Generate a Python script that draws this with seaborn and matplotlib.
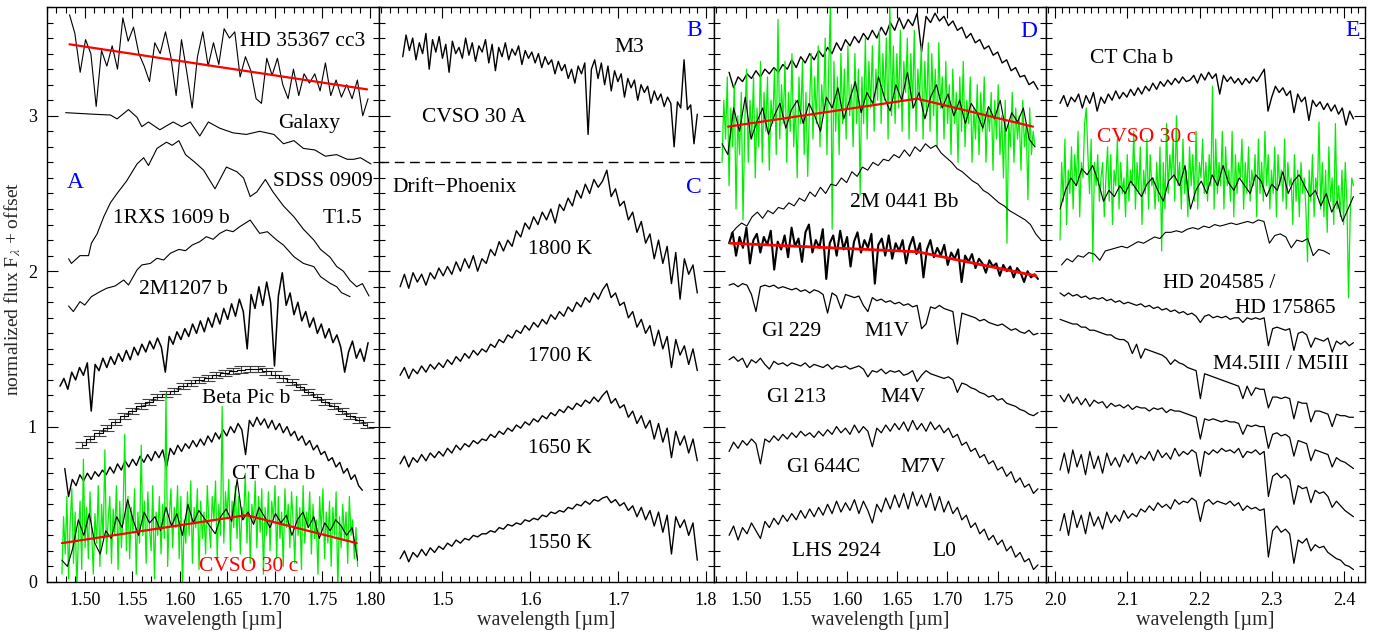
import numpy as np
import matplotlib
matplotlib.use("Agg")
import matplotlib.pyplot as plt
from matplotlib.ticker import MultipleLocator, FormatStrFormatter
import seaborn as sns

# ---------------- Panel A ----------------
hd35367_range = (1.484, 1.798)
hd35367_flux = [3.65, 3.53, 3.28, 3.49, 3.40, 3.06, 3.42, 3.32, 3.45, 3.30, 3.63, 3.48, 3.57, 3.40,
                3.32, 3.22, 3.47, 3.40, 3.54, 3.38, 3.13, 3.49, 3.28, 3.05, 3.38, 3.54, 3.32, 3.47,
                3.33, 3.56, 3.50, 3.54, 3.25, 3.38, 3.29, 3.11, 3.08, 3.37, 3.26, 3.37, 3.20, 3.11,
                3.30, 3.13, 3.27, 3.21, 3.27, 3.16, 3.34, 3.13, 3.23, 3.12, 3.20, 3.11, 3.23, 3.00, 3.11]
hd35367_fit_w = [1.484, 1.797]
hd35367_fit_f = [3.46, 3.17]

galaxy_w = [1.480, 1.509, 1.527, 1.534, 1.546, 1.555, 1.560, 1.567, 1.579, 1.593, 1.602, 1.611, 1.621,
            1.630, 1.642, 1.656, 1.670, 1.684, 1.699, 1.709, 1.720, 1.730, 1.742, 1.753, 1.765, 1.776,
            1.783, 1.790, 1.801]
galaxy_f = [3.02, 3.01, 3.005, 2.98, 3.04, 2.99, 2.93, 2.96, 2.91, 2.96, 2.93, 2.96, 2.87, 2.96, 2.92,
            2.89, 2.88, 2.90, 2.88, 2.82, 2.84, 2.79, 2.78, 2.74, 2.75, 2.72, 2.72, 2.73, 2.69]

sdss0909_w = [1.483, 1.486, 1.495, 1.504, 1.507, 1.513, 1.520, 1.527, 1.534, 1.544, 1.555, 1.562, 1.567,
              1.576, 1.586, 1.592, 1.599, 1.606, 1.616, 1.625, 1.637, 1.649, 1.660, 1.667, 1.674, 1.681,
              1.690, 1.698, 1.709, 1.720, 1.730, 1.741, 1.748, 1.758, 1.765, 1.772, 1.779, 1.786, 1.792, 1.799]
sdss0909_f = [2.08, 2.05, 2.10, 2.10, 2.18, 2.24, 2.35, 2.44, 2.50, 2.58, 2.69, 2.73, 2.68, 2.79, 2.83,
              2.81, 2.84, 2.75, 2.70, 2.65, 2.53, 2.67, 2.64, 2.60, 2.48, 2.51, 2.59, 2.51, 2.42, 2.35,
              2.27, 2.20, 2.14, 2.09, 2.03, 2.00, 1.94, 1.90, 1.92, 1.84]

rxs1609_w = [1.483, 1.488, 1.495, 1.500, 1.507, 1.516, 1.523, 1.532, 1.541, 1.546, 1.555, 1.560, 1.569,
             1.576, 1.583, 1.590, 1.599, 1.606, 1.613, 1.621, 1.628, 1.635, 1.642, 1.649, 1.656, 1.663,
             1.674, 1.679, 1.684, 1.692, 1.702, 1.709, 1.720, 1.730, 1.741, 1.748, 1.758, 1.765, 1.770, 1.779]
rxs1609_f = [1.776, 1.74, 1.804, 1.782, 1.836, 1.868, 1.89, 1.905, 1.943, 1.911, 2.008, 2.04, 2.05, 2.083,
             2.072, 2.115, 2.14, 2.132, 2.168, 2.19, 2.222, 2.205, 2.243, 2.265, 2.254, 2.286, 2.329, 2.286,
             2.243, 2.254, 2.20, 2.168, 2.093, 2.05, 2.029, 1.965, 1.922, 1.90, 1.862, 1.836]

m1207_range = (1.474, 1.798)
m1207_flux = [1.26, 1.31, 1.24, 1.35, 1.30, 1.38, 1.33, 1.41, 1.10, 1.40, 1.36, 1.44, 1.38, 1.45, 1.40,
              1.47, 1.42, 1.49, 1.43, 1.51, 1.46, 1.53, 1.48, 1.55, 1.50, 1.57, 1.51, 1.35, 1.58, 1.53,
              1.61, 1.56, 1.63, 1.58, 1.66, 1.60, 1.68, 1.61, 1.70, 1.64, 1.73, 1.66, 1.76, 1.69, 1.79,
              1.71, 1.82, 1.74, 1.50, 1.85, 1.76, 1.90, 1.78, 1.93, 1.80, 1.39, 1.84, 1.99, 1.78, 1.86,
              1.72, 1.80, 1.68, 1.74, 1.64, 1.70, 1.60, 1.66, 1.57, 1.63, 1.54, 1.59, 1.51, 1.35, 1.48,
              1.55, 1.44, 1.50, 1.42, 1.54]

betapic_range = (1.497, 1.797)
betapic_flux = [0.88, 0.92, 0.96, 0.99, 1.03, 1.07, 1.10, 1.13, 1.16, 1.19, 1.21, 1.23, 1.26, 1.28, 1.30,
                1.315, 1.33, 1.345, 1.357, 1.367, 1.373, 1.37, 1.355, 1.335, 1.31, 1.285, 1.257, 1.225,
                1.19, 1.16, 1.13, 1.10, 1.07, 1.04, 1.01]
betapic_err = 0.02

ctcha_H_range = (1.479, 1.792)
ctcha_H_flux = [0.73, 0.55, 0.66, 0.62, 0.69, 0.65, 0.70, 0.66, 0.71, 0.68, 0.72, 0.69, 0.74, 0.70, 0.76,
                0.72, 0.78, 0.74, 0.79, 0.75, 0.81, 0.77, 0.82, 0.78, 0.84, 0.80, 0.85, 0.74, 0.86, 0.82,
                0.88, 0.84, 0.89, 0.86, 0.91, 0.87, 0.92, 0.88, 0.94, 0.90, 0.96, 0.92, 0.98, 0.94, 1.00,
                0.96, 1.02, 0.98, 0.82, 1.04, 1.00, 1.06, 1.01, 1.05, 0.99, 1.04, 0.98, 1.02, 0.96, 1.00,
                0.94, 0.97, 0.91, 0.94, 0.88, 0.91, 0.85, 0.88, 0.82, 0.84, 0.78, 0.80, 0.74, 0.77, 0.70,
                0.73, 0.66, 0.69, 0.62, 0.59]

cvso30c_H_range = (1.476, 1.787)
cvso30c_H_green = [0.05, 0.42, 0.18, 0.55, 0.02, 0.38, 0.60, 0.12, 0.45, -0.05,
                   0.30, 0.52, 0.08, 0.79, 0.22, 0.48, 0.15, 0.58, 0.33, 0.05,
                   0.44, 0.25, 0.62, 0.10, 0.50, 0.28, 0.85, 0.18, 0.40, 0.55,
                   0.12, 0.47, 0.30, 0.62, 0.08, 0.52, 0.22, 0.43, 0.95, 0.20,
                   0.55, 0.15, 0.48, 0.32, 0.60, 0.05, 0.45, 0.25, 0.88, 0.30,
                   0.52, 0.12, 0.58, 0.35, 0.20, 0.62, 0.02, 0.45, 0.30, 0.55,
                   0.18, 0.50, 0.28, 1.21, 0.10, 0.42, 0.60, 0.22, 0.48, 0.35,
                   0.62, 0.15, 0.55, -0.05, 0.40, 0.25, 0.58, 0.30, 0.65, 0.12,
                   0.48, 0.35, 0.60, 0.08, 0.52, 0.28, 0.45, 0.18, 0.62, 0.38,
                   0.22, 0.55, 0.40, 0.65, 0.15, 0.50, 0.30, 1.13, 0.25, 0.58,
                   0.42, 0.66, 0.20, 0.52, 0.35, 0.62, 0.28, 0.55, 0.18, 0.48,
                   0.40, 0.70, 0.25, 0.58, 0.12, 0.50, 0.38, 0.65, 0.22, 0.55,
                   0.32, 0.60, 0.05, 0.48, 0.30, 0.58, 0.20, 0.52, 0.40, 0.62,
                   0.15, 0.55, 0.28, 0.45, 0.10, 0.60, 0.35, 0.50, 0.22, 0.58,
                   0.38, 0.12, 0.55, 0.30, 0.48, 0.08, 0.62, 0.25, 0.45, 0.35,
                   0.58, 0.18, 0.50, 0.28, 0.40, 0.05, 0.55, 0.32, 0.60, 0.15,
                   0.45, 0.25, 0.52, 0.10, 0.48, 0.30, 0.58, -0.05, 0.42, 0.22,
                   0.50, 0.28, 0.45, 0.12, 0.55, 0.30, 0.40, 0.15, 0.35, 0.10]
cvso30c_H_smooth = [0.14, 0.10, 0.22, 0.40, 0.30, 0.44, 0.25, 0.18, 0.33, 0.28, 0.42, 0.35, 0.53, 0.40,
                    0.30, 0.45, 0.38, 0.42, 0.33, 0.48, 0.36, 0.44, 0.30, 0.50, 0.38, 0.46, 0.41, 0.36,
                    0.31, 0.42, 0.47, 0.39, 0.66, 0.40, 0.45, 0.37, 0.48, 0.42, 0.35, 0.44, 0.38, 0.43,
                    0.30, 0.40, 0.45, 0.35, 0.42, 0.28, 0.38, 0.33, 0.40, 0.36, 0.30, 0.35, 0.14]
cvso30c_H_fit_w = [1.476, 1.670, 1.786]
cvso30c_H_fit_f = [0.25, 0.43, 0.25]

# ---------------- Panel B / C ----------------
cvso30A_range = (1.455, 1.790)
cvso30A_flux = [3.38, 3.52, 3.42, 3.50, 3.36, 3.47, 3.40, 3.53, 3.30, 3.49, 3.41, 3.51, 3.37, 3.46, 3.28,
                3.48, 3.40, 3.44, 3.37, 3.50, 3.39, 3.47, 3.35, 3.45, 3.41, 3.49, 3.34, 3.46, 3.29, 3.44,
                3.38, 3.47, 3.36, 3.43, 3.39, 3.45, 3.33, 3.42, 3.37, 3.41, 3.34, 3.40, 3.31, 3.38, 3.33,
                3.36, 3.27, 3.35, 3.29, 3.33, 3.24, 3.30, 3.21, 3.32, 3.27, 3.34, 2.88, 3.30, 3.36, 3.24,
                3.34, 3.20, 3.32, 3.16, 3.29, 3.22, 3.27, 3.12, 3.24, 3.18, 3.23, 3.10, 3.20, 3.15, 3.19,
                3.08, 3.16, 3.10, 3.14, 3.06, 3.12, 3.08, 2.80, 3.09, 3.05, 3.36, 3.04, 3.07, 2.82, 3.01]
ref_line_y = 2.70

dp_range = (1.452, 1.790)
dp1800_flux = [1.90, 1.98, 1.89, 1.99, 1.93, 1.98, 1.91, 1.99, 1.95, 2.02,
               1.97, 2.03, 1.98, 2.06, 2.00, 2.08, 2.02, 2.10, 2.00, 2.08,
               2.05, 2.14, 2.10, 2.19, 2.13, 2.20, 2.16, 2.26, 2.22, 2.31,
               2.27, 2.35, 2.30, 2.38, 2.33, 2.40, 2.31, 2.43, 2.39, 2.47,
               2.42, 2.52, 2.47, 2.56, 2.50, 2.59, 2.54, 2.58, 2.65, 2.48,
               2.53, 2.42, 2.45, 2.33, 2.38, 2.25, 2.32, 2.18, 2.24, 2.08,
               2.20, 2.05, 2.16, 1.92, 2.12, 1.82, 2.08, 1.98, 2.04, 1.86]
dp1700_flux = [1.33, 1.38, 1.31, 1.37, 1.34, 1.39, 1.35, 1.40, 1.37, 1.41,
               1.38, 1.43, 1.40, 1.45, 1.42, 1.47, 1.44, 1.49, 1.46, 1.50,
               1.48, 1.53, 1.51, 1.56, 1.54, 1.59, 1.57, 1.62, 1.60, 1.65,
               1.62, 1.67, 1.64, 1.69, 1.66, 1.72, 1.69, 1.74, 1.71, 1.77,
               1.74, 1.80, 1.77, 1.83, 1.80, 1.86, 1.82, 1.88, 1.92, 1.83,
               1.86, 1.78, 1.80, 1.70, 1.74, 1.64, 1.69, 1.60, 1.65, 1.52,
               1.62, 1.50, 1.58, 1.38, 1.56, 1.46, 1.52, 1.40, 1.50, 1.36]
dp1650_flux = [0.76, 0.81, 0.74, 0.80, 0.77, 0.82, 0.78, 0.83, 0.80, 0.84,
               0.81, 0.86, 0.83, 0.88, 0.85, 0.89, 0.87, 0.91, 0.89, 0.92,
               0.91, 0.95, 0.93, 0.97, 0.95, 0.99, 0.97, 1.01, 0.99, 1.03,
               1.01, 1.05, 1.03, 1.07, 1.05, 1.09, 1.07, 1.11, 1.09, 1.13,
               1.11, 1.15, 1.13, 1.17, 1.15, 1.19, 1.16, 1.20, 1.23, 1.15,
               1.18, 1.12, 1.14, 1.06, 1.10, 1.02, 1.07, 0.99, 1.04, 0.92,
               1.02, 0.90, 0.99, 0.80, 0.97, 0.88, 0.94, 0.83, 0.92, 0.78]
dp1550_flux = [0.15, 0.20, 0.13, 0.19, 0.16, 0.21, 0.17, 0.22, 0.19, 0.23,
               0.21, 0.25, 0.23, 0.27, 0.25, 0.28, 0.27, 0.30, 0.29, 0.31,
               0.31, 0.33, 0.32, 0.35, 0.34, 0.37, 0.36, 0.38, 0.37, 0.40,
               0.39, 0.41, 0.40, 0.43, 0.42, 0.45, 0.44, 0.46, 0.45, 0.48,
               0.47, 0.50, 0.49, 0.52, 0.50, 0.53, 0.52, 0.54, 0.55, 0.51,
               0.53, 0.49, 0.51, 0.46, 0.49, 0.42, 0.48, 0.40, 0.46, 0.36,
               0.45, 0.32, 0.43, 0.18, 0.42, 0.35, 0.40, 0.30, 0.38, 0.14]

# ---------------- Panel D ----------------
d_range = (1.483, 1.790)
d_top_flux = [3.28, 3.18, 3.25, 3.22, 3.27, 3.24, 3.29, 3.25, 3.30, 3.27,
              3.31, 3.28, 3.33, 3.30, 3.36, 3.31, 3.38, 3.34, 3.40, 3.36,
              3.42, 3.38, 3.44, 3.40, 3.47, 3.42, 3.49, 3.45, 3.51, 3.47,
              3.53, 3.49, 3.55, 3.50, 3.57, 3.52, 3.60, 3.55, 3.63, 3.56,
              3.62, 3.58, 3.66, 3.41, 3.64, 3.60, 3.66, 3.61, 3.64, 3.58,
              3.61, 3.55, 3.57, 3.50, 3.53, 3.47, 3.49, 3.43, 3.45, 3.39,
              3.41, 3.34, 3.36, 3.29, 3.31, 3.25, 3.26, 3.20, 3.22, 3.17]
d_cvso_range = (1.476, 1.787)
d_cvso_green = [2.70, 3.10, 2.85, 3.25, 2.55, 3.05, 2.80, 3.20, 2.40, 3.00,
                2.75, 3.15, 2.33, 2.95, 3.30, 2.70, 3.10, 2.85, 3.25, 2.60,
                3.05, 2.80, 3.35, 2.70, 3.15, 2.90, 3.25, 2.65, 3.10, 2.95,
                3.30, 2.75, 3.62, 2.85, 3.20, 2.95, 3.35, 2.70, 3.15, 2.90,
                3.40, 2.80, 3.10, 2.60, 3.25, 2.95, 3.35, 2.75, 3.15, 2.61,
                3.05, 3.40, 2.85, 3.25, 2.95, 3.45, 2.80, 3.20, 3.00, 3.50,
                2.75, 3.30, 3.72, 2.27, 3.35, 2.90, 3.25, 2.75, 3.40, 2.95,
                3.30, 2.85, 3.45, 3.00, 3.20, 2.80, 3.40, 2.95, 3.30, 2.49,
                3.25, 2.95, 3.50, 2.85, 3.35, 3.05, 3.45, 2.90, 3.30, 3.10,
                3.55, 2.95, 3.40, 3.10, 3.50, 2.85, 3.72, 3.00, 3.45, 2.95,
                3.40, 3.05, 3.55, 2.90, 3.35, 3.15, 3.50, 2.85, 3.40, 3.05,
                3.55, 2.90, 3.30, 3.10, 3.45, 2.85, 3.35, 3.00, 3.47, 2.90,
                3.40, 3.00, 3.30, 2.80, 3.47, 3.05, 3.25, 2.85, 3.35, 2.95,
                3.20, 2.75, 3.30, 2.95, 3.15, 2.70, 3.25, 2.90, 3.35, 2.80,
                3.10, 2.95, 3.25, 2.70, 3.05, 2.85, 3.20, 2.75, 3.15, 2.90,
                3.25, 2.70, 3.05, 2.90, 3.15, 2.65, 3.10, 2.85, 3.20, 2.75,
                3.00, 2.60, 3.10, 2.18, 2.95, 2.80, 3.15, 2.70, 3.05, 2.85,
                3.00, 2.65, 3.10, 2.80, 2.95, 2.46, 3.05, 2.75, 2.90, 2.80]
d_cvso_smooth = [2.82, 2.75, 3.05, 2.90, 3.12, 2.85, 2.96, 3.05, 2.88, 3.00, 3.08, 2.92, 3.04, 3.10,
                 2.95, 3.08, 3.00, 2.90, 3.12, 3.05, 3.18, 2.98, 3.10, 3.22, 3.02, 3.15, 3.08, 3.25,
                 3.12, 3.03, 3.20, 3.10, 3.28, 3.05, 3.15, 2.98, 3.12, 3.20, 3.05, 3.14, 3.00, 3.10,
                 2.95, 3.08, 3.02, 2.92, 3.06, 2.98, 3.10, 2.90, 3.02, 2.96, 3.05, 2.85, 2.80]
d_cvso_fit_w = [1.482, 1.670, 1.785]
d_cvso_fit_f = [2.93, 3.11, 2.93]

m0441_range = (1.485, 1.793)
m0441_flux = [2.24, 2.28, 2.31, 2.29, 2.35, 2.38, 2.34, 2.39, 2.37, 2.41,
              2.40, 2.44, 2.42, 2.47, 2.45, 2.51, 2.48, 2.54, 2.50, 2.56,
              2.55, 2.60, 2.57, 2.64, 2.61, 2.67, 2.65, 2.70, 2.68, 2.72,
              2.71, 2.75, 2.73, 2.78, 2.74, 2.80, 2.77, 2.82, 2.79, 2.81,
              2.76, 2.73, 2.70, 2.66, 2.64, 2.61, 2.58, 2.56, 2.52, 2.50,
              2.47, 2.44, 2.42, 2.39, 2.37, 2.35, 2.33, 2.30, 2.24, 2.20]

d_thick_flux = [2.18, 2.25, 2.10, 2.22, 2.15, 2.28, 2.05, 2.20, 2.24, 2.12,
                2.22, 2.17, 2.26, 2.01, 2.19, 2.14, 2.23, 2.09, 2.28, 2.16,
                2.21, 2.06, 2.25, 2.30, 2.12, 2.20, 2.15, 2.27, 1.95, 2.18,
                2.23, 2.10, 2.26, 2.14, 2.22, 2.03, 2.19, 2.25, 2.12, 2.20,
                2.15, 2.24, 1.92, 2.17, 2.21, 2.10, 2.23, 2.08, 2.18, 2.13,
                2.20, 2.05, 2.16, 2.22, 2.11, 2.18, 1.96, 2.14, 2.20, 2.09,
                2.15, 2.10, 2.17, 2.04, 2.12, 2.08, 2.14, 1.93, 2.10, 2.06,
                2.11, 2.02, 2.08, 2.05, 1.99, 2.07, 2.03, 2.05, 1.97, 2.04,
                2.00, 2.03, 1.96, 2.02, 1.99, 1.93, 2.00, 1.96, 1.98, 1.95]
d_thick_fit_w = [1.484, 1.670, 1.788]
d_thick_fit_f = [2.18, 2.125, 1.97]

gl229_flux = [1.91, 1.92, 1.90, 1.92, 1.91, 1.85, 1.74, 1.90, 1.91, 1.90,
              1.91, 1.89, 1.90, 1.89, 1.88, 1.89, 1.87, 1.88, 1.86, 1.88,
              1.87, 1.85, 1.73, 1.86, 1.84, 1.76, 1.85, 1.84, 1.83, 1.84,
              1.78, 1.74, 1.83, 1.81, 1.82, 1.80, 1.81, 1.79, 1.80, 1.78,
              1.79, 1.77, 1.78, 1.63, 1.66, 1.77, 1.76, 1.78, 1.76, 1.75,
              1.74, 1.53, 1.73, 1.72, 1.71, 1.70, 1.68, 1.69, 1.67, 1.66,
              1.65, 1.66, 1.64, 1.62, 1.63, 1.61, 1.60, 1.62, 1.59, 1.60]
gl213_flux = [1.43, 1.45, 1.42, 1.44, 1.38, 1.43, 1.41, 1.44, 1.40, 1.37,
              1.42, 1.40, 1.41, 1.39, 1.41, 1.40, 1.39, 1.41, 1.38, 1.40,
              1.39, 1.38, 1.40, 1.37, 1.39, 1.38, 1.39, 1.37, 1.38, 1.39,
              1.37, 1.32, 1.36, 1.35, 1.37, 1.34, 1.36, 1.35, 1.36, 1.33,
              1.34, 1.36, 1.29, 1.33, 1.36, 1.34, 1.33, 1.32, 1.31, 1.32,
              1.30, 1.22, 1.28, 1.27, 1.25, 1.24, 1.22, 1.21, 1.19, 1.20,
              1.17, 1.18, 1.15, 1.14, 1.13, 1.11, 1.10, 1.08, 1.07, 1.09]
gl644c_flux = [0.84, 0.90, 0.86, 0.91, 0.88, 0.92, 0.89, 0.76, 0.92, 0.90,
               0.94, 0.91, 0.95, 0.92, 0.96, 0.93, 0.97, 0.94, 0.96, 0.93,
               0.97, 0.94, 0.98, 0.95, 1.00, 0.96, 0.99, 0.95, 1.01, 0.96,
               1.00, 0.97, 0.87, 0.99, 0.96, 1.01, 0.97, 1.02, 0.98, 1.03,
               0.97, 1.04, 0.98, 1.02, 0.97, 1.03, 0.98, 1.01, 0.96, 0.99,
               0.93, 0.95, 0.88, 0.90, 0.84, 0.86, 0.80, 0.82, 0.76, 0.78,
               0.72, 0.74, 0.68, 0.71, 0.64, 0.67, 0.61, 0.63, 0.57, 0.60]
lhs2924_flux = [0.30, 0.36, 0.27, 0.35, 0.31, 0.38, 0.33, 0.28, 0.39, 0.35,
                0.41, 0.37, 0.43, 0.39, 0.44, 0.40, 0.46, 0.41, 0.47, 0.42,
                0.48, 0.43, 0.50, 0.44, 0.52, 0.45, 0.51, 0.46, 0.53, 0.44,
                0.52, 0.46, 0.38, 0.50, 0.45, 0.54, 0.47, 0.56, 0.48, 0.57,
                0.47, 0.58, 0.49, 0.56, 0.48, 0.57, 0.46, 0.55, 0.45, 0.52,
                0.44, 0.48, 0.40, 0.43, 0.35, 0.38, 0.31, 0.34, 0.27, 0.30,
                0.24, 0.27, 0.20, 0.23, 0.16, 0.19, 0.13, 0.15, 0.08, 0.11]

# ---------------- Panel E ----------------
e_range = (2.007, 2.413)
ctcha_K_flux = [3.08, 3.13, 3.06, 3.12, 3.09, 3.14, 3.05, 3.13, 3.08, 3.15,
                3.03, 3.12, 3.08, 3.14, 3.10, 3.16, 3.11, 3.15, 3.12, 3.17,
                3.13, 3.18, 3.14, 3.19, 3.16, 3.21, 3.17, 3.22, 3.19, 3.23,
                3.20, 3.24, 3.21, 3.25, 3.22, 3.23, 3.26, 3.21, 3.27, 3.23,
                3.28, 3.24, 3.27, 3.14, 3.26, 3.22, 3.25, 3.21, 3.24, 3.20,
                3.24, 3.21, 3.25, 3.22, 3.26, 3.30, 3.03, 3.12, 3.19, 3.15,
                3.18, 3.13, 3.16, 3.02, 3.14, 3.09, 3.12, 2.97, 3.10, 3.06,
                3.09, 3.04, 3.08, 3.03, 3.07, 3.01, 3.05, 2.94, 3.03, 2.98]
cvso30c_K_green = [2.20, 2.70, 2.45, 2.85, 2.30, 2.65, 2.50, 2.80, 2.40, 2.75,
                   2.55, 2.90, 2.35, 2.70, 2.60, 2.95, 3.05, 2.75, 2.50, 2.85,
                   2.06, 2.70, 2.55, 2.75, 2.45, 2.60, 2.70, 2.35, 2.60, 2.80,
                   2.45, 2.75, 2.30, 2.65, 2.55, 2.85, 2.40, 2.70, 2.50, 2.60,
                   2.35, 2.75, 2.45, 2.65, 2.55, 2.90, 2.40, 2.70, 2.50, 2.80,
                   2.30, 2.65, 2.50, 2.85, 2.40, 2.75, 2.55, 2.60, 2.40, 2.70,
                   2.45, 2.80, 2.13, 2.70, 2.40, 2.95, 2.50, 2.75, 2.60, 2.85,
                   2.45, 3.00, 2.55, 2.70, 2.40, 2.85, 2.50, 2.65, 2.35, 2.80,
                   2.55, 2.75, 2.45, 2.90, 2.40, 2.70, 2.60, 2.85, 2.50, 2.70,
                   2.45, 2.75, 2.55, 3.19, 2.40, 2.85, 2.50, 2.70, 2.55, 2.90,
                   2.40, 2.80, 2.55, 2.65, 2.45, 2.90, 2.35, 2.75, 2.50, 2.70,
                   2.60, 2.85, 2.40, 2.70, 2.50, 2.80, 2.45, 2.65, 2.55, 2.75,
                   2.35, 2.85, 2.50, 2.70, 2.45, 2.90, 2.55, 2.75, 2.40, 2.65,
                   2.50, 2.80, 2.35, 2.75, 2.55, 2.65, 2.45, 2.85, 2.40, 2.70,
                   2.55, 2.60, 2.30, 2.75, 2.45, 2.65, 2.35, 2.70, 2.50, 2.60,
                   2.40, 2.06, 2.65, 2.45, 2.75, 2.35, 2.60, 2.50, 2.96, 2.40,
                   2.70, 2.35, 2.65, 2.25, 2.80, 2.45, 2.60, 2.30, 2.95, 2.40,
                   2.55, 2.35, 2.65, 2.30, 2.70, 2.45, 1.83, 2.35, 2.60, 2.55]
cvso30c_K_smooth = [2.40, 2.52, 2.60, 2.55, 2.66, 2.62, 2.68, 2.58, 2.45, 2.52, 2.48, 2.55, 2.50, 2.58,
                    2.53, 2.48, 2.56, 2.60, 2.52, 2.45, 2.58, 2.62, 2.55, 2.68, 2.40, 2.52, 2.58, 2.50,
                    2.62, 2.55, 2.68, 2.57, 2.52, 2.60, 2.55, 2.50, 2.62, 2.58, 2.48, 2.56, 2.52, 2.64,
                    2.50, 2.58, 2.62, 2.55, 2.48, 2.52, 2.42, 2.50, 2.38, 2.45, 2.32, 2.40, 2.48]
e_model_range = (2.009, 2.380)
e_model_flux = [2.04, 2.08, 2.06, 2.10, 2.09, 2.12, 2.11, 2.07, 2.13, 2.14,
                2.15, 2.16, 2.15, 2.17, 2.19, 2.18, 2.20, 2.22, 2.21, 2.25,
                2.25, 2.26, 2.25, 2.27, 2.28, 2.27, 2.29, 2.28, 2.30, 2.29,
                2.30, 2.31, 2.30, 2.31, 2.32, 2.31, 2.33, 2.32, 2.18, 2.23,
                2.24, 2.22, 2.15, 2.20, 2.19, 2.21, 2.10, 2.14, 2.13, 2.11]
hd204585_flux = [1.86, 1.84, 1.86, 1.84, 1.85, 1.83, 1.84, 1.82, 1.83, 1.82,
                 1.83, 1.81, 1.82, 1.80, 1.81, 1.79, 1.80, 1.79, 1.78, 1.79,
                 1.77, 1.78, 1.76, 1.77, 1.75, 1.76, 1.74, 1.75, 1.73, 1.74,
                 1.72, 1.73, 1.71, 1.67, 1.71, 1.72, 1.70, 1.71, 1.70, 1.71,
                 1.69, 1.70, 1.70, 1.67, 1.70, 1.69, 1.70, 1.69, 1.70, 1.52,
                 1.63, 1.64, 1.63, 1.62, 1.63, 1.49, 1.60, 1.61, 1.59, 1.51,
                 1.57, 1.56, 1.55, 1.57, 1.48, 1.55, 1.53, 1.55, 1.52, 1.54]
m45III_flux = [1.69, 1.68, 1.67, 1.66, 1.66, 1.64, 1.64, 1.62, 1.62, 1.61,
               1.60, 1.59, 1.59, 1.57, 1.56, 1.56, 1.54, 1.47, 1.53, 1.44,
               1.50, 1.49, 1.48, 1.47, 1.46, 1.44, 1.40, 1.43, 1.41, 1.40,
               1.38, 1.37, 1.36, 1.18, 1.34, 1.33, 1.32, 1.31, 1.30, 1.29,
               1.28, 1.27, 1.26, 1.18, 1.26, 1.20, 1.25, 1.24, 1.24, 1.12,
               1.19, 1.19, 1.18, 1.19, 1.18, 1.05, 1.16, 1.15, 1.15, 1.03,
               1.10, 1.10, 1.09, 1.08, 1.00, 1.08, 1.07, 1.07, 1.06, 1.06]
e6_flux = [1.20, 1.16, 1.21, 1.15, 1.19, 1.14, 1.18, 1.13, 1.17, 1.15,
           1.16, 1.12, 1.15, 1.13, 1.14, 1.12, 1.14, 1.11, 1.13, 1.12,
           1.12, 1.10, 1.12, 1.11, 1.12, 1.09, 1.11, 1.10, 1.10, 1.09,
           1.08, 1.07, 1.06, 0.92, 1.05, 1.04, 1.05, 1.04, 1.03, 1.04,
           1.03, 1.03, 1.02, 0.95, 1.01, 1.00, 1.01, 1.00, 1.00, 0.86,
           0.95, 0.96, 0.94, 0.95, 0.93, 0.81, 0.91, 0.90, 0.89, 0.78,
           0.85, 0.84, 0.83, 0.82, 0.74, 0.80, 0.78, 0.77, 0.75, 0.73]
e7_flux = [0.72, 0.83, 0.70, 0.85, 0.74, 0.82, 0.69, 0.84, 0.73, 0.81,
           0.70, 0.83, 0.75, 0.80, 0.74, 0.82, 0.77, 0.83, 0.76, 0.81,
           0.79, 0.84, 0.78, 0.85, 0.80, 0.83, 0.79, 0.86, 0.81, 0.84,
           0.82, 0.85, 0.83, 0.68, 0.84, 0.82, 0.85, 0.83, 0.86, 0.84,
           0.85, 0.83, 0.86, 0.80, 0.84, 0.83, 0.85, 0.82, 0.84, 0.55,
           0.68, 0.70, 0.67, 0.69, 0.66, 0.50, 0.62, 0.60, 0.61, 0.51,
           0.59, 0.57, 0.58, 0.55, 0.48, 0.52, 0.49, 0.46, 0.44, 0.42]
e8_flux = [0.33, 0.44, 0.30, 0.46, 0.35, 0.43, 0.31, 0.45, 0.36, 0.42,
           0.34, 0.45, 0.38, 0.43, 0.39, 0.46, 0.41, 0.44, 0.42, 0.47,
           0.45, 0.49, 0.46, 0.51, 0.48, 0.50, 0.47, 0.53, 0.50, 0.52,
           0.51, 0.54, 0.52, 0.39, 0.51, 0.53, 0.50, 0.52, 0.51, 0.50,
           0.52, 0.49, 0.51, 0.46, 0.49, 0.47, 0.48, 0.46, 0.47, 0.16,
           0.33, 0.36, 0.32, 0.34, 0.31, 0.12, 0.27, 0.25, 0.28, 0.20,
           0.24, 0.22, 0.23, 0.19, 0.17, 0.15, 0.14, 0.11, 0.10, 0.08]

# ---------------- Style ----------------
sns.set_theme(style="ticks")
plt.rcParams["font.family"] = ["Liberation Serif", "DejaVu Serif"]
plt.rcParams["mathtext.fontset"] = "stix"
plt.rcParams["axes.linewidth"] = 1.0

GREEN = "#00ee00"
RED = "#ff0000"
BLUE = "#0000ff"
LAB = 15.5

fig = plt.figure(figsize=(13.86, 6.35), dpi=100)
gs = fig.add_gridspec(1, 4, width_ratios=[332.3, 335, 332, 319],
                      left=0.0337, right=0.98485, bottom=0.0835, top=0.98898, wspace=0)
axes = [fig.add_subplot(gs[0, i]) for i in range(4)]


def line(ax, w, f, color="black", lw=0.8, **kw):
    sns.lineplot(x=np.asarray(w, float), y=np.asarray(f, float), ax=ax, color=color,
                 lw=lw, estimator=None, sort=False, legend=False, **kw)


def spec(ax, rng, f, **kw):
    line(ax, np.linspace(rng[0], rng[1], len(f)), f, **kw)


def label(ax, x, y, s, color="black", ha="left", size=LAB):
    ax.text(x, y, s, color=color, ha=ha, va="center", fontsize=size)


# Panel A
ax = axes[0]
spec(ax, hd35367_range, hd35367_flux, lw=0.8)
line(ax, hd35367_fit_w, hd35367_fit_f, color=RED, lw=1.6)
line(ax, galaxy_w, galaxy_f, lw=0.8)
line(ax, sdss0909_w, sdss0909_f, lw=0.8)
line(ax, rxs1609_w, rxs1609_f, lw=0.8)
spec(ax, m1207_range, m1207_flux, lw=1.1)
bw = np.linspace(betapic_range[0], betapic_range[1], len(betapic_flux))
ax.errorbar(bw, betapic_flux, yerr=betapic_err, fmt="none", ecolor="0.25",
            elinewidth=0.8, capsize=5, capthick=0.8)
line(ax, bw, betapic_flux, lw=0.8, drawstyle="steps-mid")
spec(ax, ctcha_H_range, ctcha_H_flux, lw=1.0)
spec(ax, cvso30c_H_range, cvso30c_H_green, color=GREEN, lw=0.9)
spec(ax, cvso30c_H_range, cvso30c_H_smooth, lw=0.8)
line(ax, cvso30c_H_fit_w, cvso30c_H_fit_f, color=RED, lw=1.6)
label(ax, 1.795, 3.475, "HD 35367 cc3", ha="right")
label(ax, 1.769, 2.95, "Galaxy", ha="right")
label(ax, 1.4814, 2.57, "A", color=BLUE, size=17)
label(ax, 1.803, 2.58, "SDSS 0909", ha="right")
label(ax, 1.530, 2.34, "1RXS 1609 b")
label(ax, 1.792, 2.34, "T1.5", ha="right")
label(ax, 1.557, 1.885, "2M1207 b")
label(ax, 1.6236, 1.178, "Beta Pic b")
label(ax, 1.655, 0.689, "CT Cha b")
label(ax, 1.6205, 0.097, "CVSO 30 c", color=RED)

# Panel B / C
ax = axes[1]
spec(ax, cvso30A_range, cvso30A_flux, lw=1.0)
ax.axhline(ref_line_y, color="black", lw=1.0, ls=(0, (7, 4)))
for fl in (dp1800_flux, dp1700_flux, dp1650_flux, dp1550_flux):
    spec(ax, dp_range, fl, lw=1.0)
label(ax, 1.795, 3.55, "B", color=BLUE, ha="right", size=17)
label(ax, 1.696, 3.44, "M3")
label(ax, 1.477, 2.99, "CVSO 30 A")
label(ax, 1.443, 2.54, "Drift\u2212Phoenix")
label(ax, 1.795, 2.54, "C", color=BLUE, ha="right", size=17)
label(ax, 1.597, 2.14, "1800 K")
label(ax, 1.597, 1.45, "1700 K")
label(ax, 1.597, 0.856, "1650 K")
label(ax, 1.597, 0.25, "1550 K")

# Panel D
ax = axes[2]
spec(ax, d_range, d_top_flux, lw=1.0)
spec(ax, d_cvso_range, d_cvso_green, color=GREEN, lw=0.9)
spec(ax, d_cvso_range, d_cvso_smooth, lw=0.8)
line(ax, d_cvso_fit_w, d_cvso_fit_f, color=RED, lw=1.6)
spec(ax, m0441_range, m0441_flux, lw=0.8)
spec(ax, d_range, d_thick_flux, lw=1.5)
line(ax, d_thick_fit_w, d_thick_fit_f, color=RED, lw=2.0)
spec(ax, d_range, gl229_flux, lw=0.9)
spec(ax, d_range, gl213_flux, lw=0.9)
spec(ax, d_range, gl644c_flux, lw=0.9)
spec(ax, d_range, lhs2924_flux, lw=0.9)
label(ax, 1.789, 3.54, "D", color=BLUE, ha="right", size=17)
label(ax, 1.603, 2.44, "2M 0441 Bb")
label(ax, 1.516, 1.61, "Gl 229")
label(ax, 1.618, 1.61, "M1V")
label(ax, 1.521, 1.184, "Gl 213")
label(ax, 1.633, 1.184, "M4V")
label(ax, 1.541, 0.734, "Gl 644C")
label(ax, 1.653, 0.734, "M7V")
label(ax, 1.546, 0.193, "LHS 2924")
label(ax, 1.685, 0.193, "L0")

# Panel E
ax = axes[3]
spec(ax, e_range, ctcha_K_flux, lw=1.0)
spec(ax, e_range, cvso30c_K_green, color=GREEN, lw=0.9)
spec(ax, e_range, cvso30c_K_smooth, lw=0.8)
spec(ax, e_model_range, e_model_flux, lw=0.8)
spec(ax, e_range, hd204585_flux, lw=0.9)
spec(ax, e_range, m45III_flux, lw=0.9)
spec(ax, e_range, e6_flux, lw=0.9)
spec(ax, e_range, e7_flux, lw=0.9)
spec(ax, e_range, e8_flux, lw=0.9)
label(ax, 2.422, 3.55, "E", color=BLUE, ha="right", size=17)
label(ax, 2.048, 3.37, "CT Cha b")
label(ax, 2.058, 2.86, "CVSO 30 c", color=RED)
label(ax, 2.149, 1.92, "HD 204585 /")
label(ax, 2.249, 1.76, "HD 175865")
label(ax, 2.219, 1.40, "M4.5III / M5III")

# Axes formatting
xlims = [(1.46, 1.8095), (1.428, 1.809), (1.468, 1.798), (1.9876, 2.429)]
majors = [0.05, 0.1, 0.05, 0.1]
fmts = ["%.2f", "%.1f", "%.2f", "%.1f"]
for i, ax in enumerate(axes):
    ax.set_xlim(*xlims[i])
    ax.set_ylim(0, 3.70)
    ax.xaxis.set_major_locator(MultipleLocator(majors[i]))
    ax.xaxis.set_minor_locator(MultipleLocator(0.01))
    ax.xaxis.set_major_formatter(FormatStrFormatter(fmts[i]))
    ax.yaxis.set_major_locator(MultipleLocator(1))
    ax.yaxis.set_minor_locator(MultipleLocator(0.1))
    ax.tick_params(which="both", direction="in", top=True, right=True,
                   labelsize=13, pad=7, width=0.8, colors="black")
    ax.tick_params(which="major", length=8)
    ax.tick_params(which="minor", length=4)
    ax.set_xlabel("wavelength [\u00b5m]", fontsize=14.5, labelpad=2)
    for s in ax.spines.values():
        s.set_visible(True)
        s.set_color("black")
    if i > 0:
        ax.tick_params(labelleft=False)
        ax.set_ylabel("")
axes[0].set_ylabel("normalized flux F$_{\\lambda}$ + offset", fontsize=14)
axes[0].yaxis.set_label_coords(-0.07, 0.51)

fig.savefig("out.png", dpi=100)
